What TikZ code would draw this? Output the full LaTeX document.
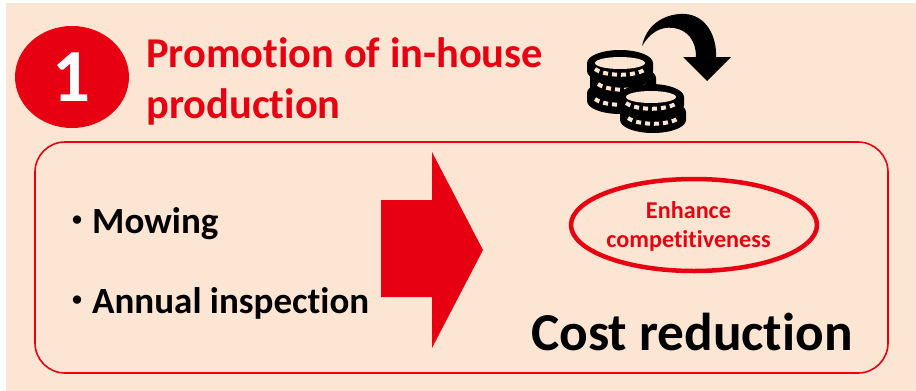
\documentclass[tikz,border=0pt]{standalone}
\usepackage{fontspec}
\usetikzlibrary{shapes.geometric}
\setmainfont[Ligatures=NoCommon]{Carlito}
\newfontfamily\cjk{Noto Sans CJK JP}
\definecolor{peach}{HTML}{FDE5D3}
\definecolor{brandred}{HTML}{E60012}
\tikzset{
  headtext/.style={font=\fontsize{42.5}{51}\selectfont\bfseries, text=brandred, align=left, anchor=north west, inner sep=0pt},
  itemtext/.style={font=\fontsize{37}{40}\selectfont\bfseries, anchor=west, inner sep=0pt},
  coinface/.style={fill=peach, draw=none},
  coinedge/.style={draw=peach, line width=4pt, dash pattern=on 5pt off 4pt},
}
\newcommand{\coinlayer}[2]{%
  \fill[black] (#1-33,#2) -- (#1-33,#2+8) arc (180:0:33 and 13) -- (#1+33,#2) arc (360:180:33 and 13) -- cycle;
  \draw[coinedge] (#1-25,#2+6) arc (155:25:28 and 10);
}
\newcommand{\itemdot}{\raisebox{2pt}{\fontsize{30}{30}\cjk ・}\hspace{0pt}}
\begin{document}
\begin{tikzpicture}[x=1pt, y=-1pt]
  \useasboundingbox (0,0) rectangle (916,391);
  \fill[peach] (6,3) rectangle (916,391);
  % heading
  \node[ellipse, fill=brandred, minimum width=114pt, minimum height=102pt, inner sep=0pt,
    text=white, font=\fontsize{75}{75}\selectfont\bfseries] (badge) at (72,77) {1};
  \node[headtext] (title) at (146,37) {Promotion of in-house\\production};
  % frame
  \draw[brandred, line width=1.6pt, rounded corners=30pt] (35,142) rectangle (888,373);
  \node[itemtext] (mowing) at (62,224) {\itemdot Mowing};
  \node[itemtext] (inspect) at (62,303) {\itemdot Annual inspection};
  % big arrow
  \fill[brandred] (381,200) -- (432,200) -- (432,152) -- (483,250) -- (432,348) -- (432,297) -- (381,297) -- cycle;
  \node[ellipse, draw=brandred, line width=4.5pt, minimum width=246pt, minimum height=92pt, inner sep=0pt] (enhance) at (694,225) {};
  \node[text=brandred, align=center, inner sep=0pt, font=\fontsize{24.2}{29}\selectfont\bfseries] (enhancetext) at (688.5,226) {Enhance\\competitiveness};
  \node[font=\fontsize{53.3}{53}\selectfont\bfseries, inner sep=0pt] (cost) at (692,332) {Cost reduction};
  % coins
  \foreach \xx/\yy in {620/93,623/78,620/63} {\coinlayer{\xx}{\yy}}
  \fill[coinface] (620,63) ellipse (25 and 6);
  \foreach \xx/\yy in {653/112,651/97} {\coinlayer{\xx}{\yy}}
  \fill[coinface] (651,97) ellipse (25 and 6);
  % turn arrow
  \fill[black] (642,46) .. controls (647,22) and (668,13) .. (685,14)
    .. controls (705,15) and (717,35) .. (716,57) -- (731,57) -- (707,81) -- (683,57) -- (696,57)
    .. controls (696,40) and (687,30) .. (674,28) .. controls (660,26) and (650,33) .. (642,46) -- cycle;
\end{tikzpicture}
\end{document}
